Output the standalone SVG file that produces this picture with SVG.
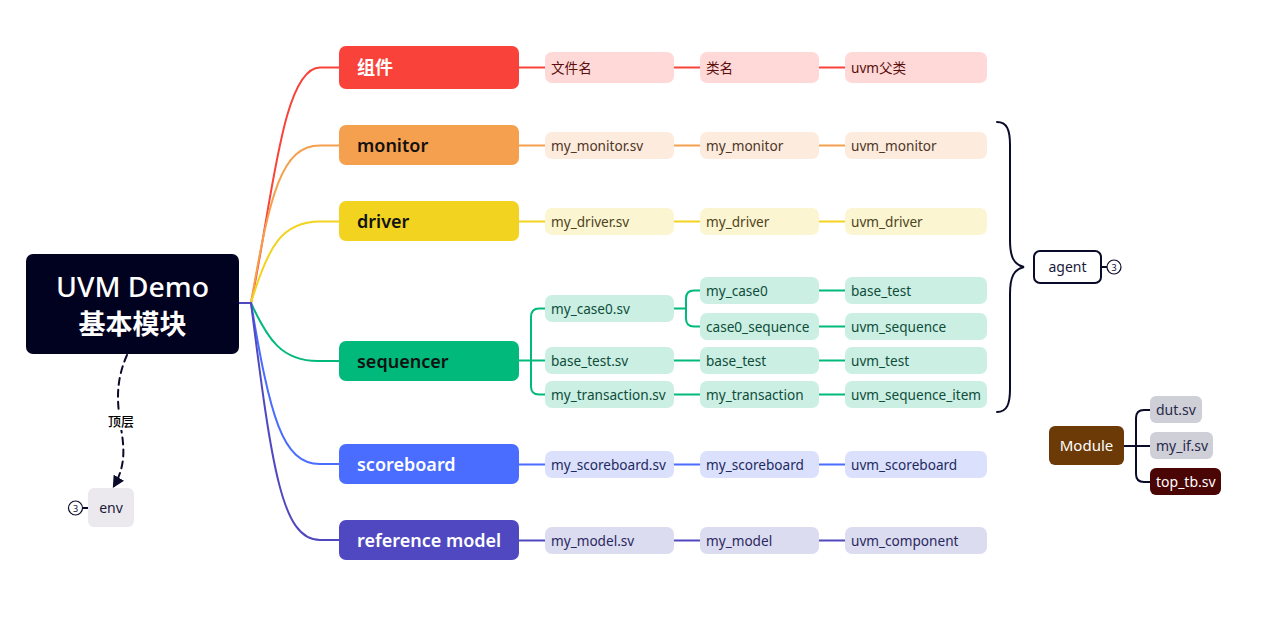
<svg xmlns="http://www.w3.org/2000/svg" width="1275" height="622" viewBox="0 0 1275 622">
<defs>
<style>
text{font-family:"Noto Sans","Noto Sans CJK SC",sans-serif;}
.br{font-size:18px;font-weight:600;}
.ch{font-size:13.6px;}
.ln{fill:none;stroke-width:2;stroke-linecap:round;}
.red{stroke:#f9423a}.org{stroke:#f5a04e}.yel{stroke:#f2d31f}.grn{stroke:#00b97a}.blu{stroke:#4a6cff}.pur{stroke:#4f48c0}.dk{stroke:#0a0a2a}
.cred{fill:#ffd9d8}.corg{fill:#fdebdd}.cyel{fill:#fcf5d2}.cgrn{fill:#ccefe3}.cblu{fill:#dbe1fd}.cpur{fill:#dcdcf0}
.tred{fill:#5a0f0c}.torg{fill:#4d3626}.tyel{fill:#4d4420}.tgrn{fill:#0e4d3a}.tblu{fill:#1e2a5e}.tpur{fill:#2a2860}
.num{fill:#fff;stroke:#0a0a2a;stroke-width:1.2}
.numt{font-size:9px;fill:#0a0a2a;text-anchor:middle}
</style>
<marker id="arr" viewBox="0 0 10 10" refX="8" refY="5" markerWidth="6" markerHeight="6" orient="auto-start-reverse">
<path d="M0,0 L10,5 L0,10 z" fill="#0a0a2a"/>
</marker>
</defs>
<rect width="1275" height="622" fill="#fff"/>

<g id="connectors">
<path class="ln red" d="M239,303 H251 C272,204 282,67.5 320,67.5 H339"/>
<path class="ln org" d="M239,303 H251 C270,192 282,145.5 320,145.5 H339"/>
<path class="ln yel" d="M239,303 H251 C268,246 282,221.5 320,221.5 H339"/>
<path class="ln grn" d="M239,303 H251 C268,340 282,361 318,361 H339"/>
<path class="ln blu" d="M239,303 H251 C270,416 282,464 320,464 H339"/>
<path class="ln pur" d="M239,303 H251 C272,470 282,540 320,540 H339"/>

<path class="ln red" d="M519,67.5 H545 M674,67.5 H700 M819,67.5 H845"/>
<path class="ln org" d="M519,145.5 H545 M674,145.5 H700 M819,145.5 H845"/>
<path class="ln yel" d="M519,221.5 H545 M674,221.5 H700 M819,221.5 H845"/>
<path class="ln grn" d="M519,360.5 H545 M531,360.5 V317 Q531,308.5 539,308.5 H545 M531,360.5 V386.5 Q531,394.5 539,394.5 H545"/>
<path class="ln grn" d="M674,308.5 H686 V298.5 Q686,290.5 694,290.5 H700 M686,308.5 V318.5 Q686,326.5 694,326.5 H700"/>
<path class="ln grn" d="M819,290.5 H845 M819,326.5 H845 M674,360.5 H700 M819,360.5 H845 M674,394.5 H700 M819,394.5 H845"/>
<path class="ln blu" d="M519,464.5 H545 M674,464.5 H700 M819,464.5 H845"/>
<path class="ln pur" d="M519,540.5 H545 M674,540.5 H700 M819,540.5 H845"/>

<path class="ln dk" d="M997,122 C1007,122 1010,130 1010,145 V240 C1010,257 1014,265 1024,267 C1014,269 1010,277 1010,294 V389 C1010,404 1007,412 997,412"/>
<path class="ln dk" d="M1102,267 H1107"/>
<path class="ln dk" d="M83,508 H88"/>
<path class="ln dk" d="M1124,446 H1150 M1136,446 V418 Q1136,410 1144,410 H1150 M1136,446 V474 Q1136,482 1144,482 H1150"/>

<path class="ln dk" stroke-dasharray="7,5" d="M127,355 C116,380 117,400 120,421 C123,442 128,462 114,486" marker-end="url(#arr)"/>
<rect x="104" y="412" width="34" height="18" fill="#fff"/>
<text x="121" y="426" font-size="13" font-weight="500" text-anchor="middle" fill="#000">顶层</text>
</g>

<g id="root">
<rect x="26" y="254" width="213" height="100" rx="7" fill="#01021f"/>
<text x="132.5" y="297" font-size="27" fill="#fff" text-anchor="middle" font-weight="500" textLength="153" lengthAdjust="spacingAndGlyphs">UVM Demo</text>
<text x="132.5" y="334" font-size="27" fill="#fff" text-anchor="middle" font-weight="700">基本模块</text>
</g>

<g id="n-zujian">
<rect x="339" y="46" width="180" height="43" rx="7" fill="#f9423a"/>
<text class="br" x="357" y="74" fill="#fff">组件</text>
</g>
<g id="n-zujian-c">
<rect class="cred" x="545" y="52" width="129" height="31" rx="7"/><text class="ch tred" x="551" y="73">文件名</text>
<rect class="cred" x="700" y="52" width="119" height="31" rx="7"/><text class="ch tred" x="706" y="73">类名</text>
<rect class="cred" x="845" y="52" width="142" height="31" rx="7"/><text class="ch tred" x="851" y="73">uvm父类</text>
</g>

<g id="n-monitor">
<rect x="339" y="125" width="180" height="40" rx="7" fill="#f5a04e"/>
<text class="br" x="357" y="152" fill="#111">monitor</text>
</g>
<g id="n-monitor-c">
<rect class="corg" x="545" y="132" width="129" height="27" rx="7"/><text class="ch torg" x="551" y="150.5">my_monitor.sv</text>
<rect class="corg" x="700" y="132" width="119" height="27" rx="7"/><text class="ch torg" x="706" y="150.5">my_monitor</text>
<rect class="corg" x="845" y="132" width="142" height="27" rx="7"/><text class="ch torg" x="851" y="150.5">uvm_monitor</text>
</g>

<g id="n-driver">
<rect x="339" y="201" width="180" height="40" rx="7" fill="#f2d31f"/>
<text class="br" x="357" y="228" fill="#111">driver</text>
</g>
<g id="n-driver-c">
<rect class="cyel" x="545" y="208" width="129" height="27" rx="7"/><text class="ch tyel" x="551" y="226.5">my_driver.sv</text>
<rect class="cyel" x="700" y="208" width="119" height="27" rx="7"/><text class="ch tyel" x="706" y="226.5">my_driver</text>
<rect class="cyel" x="845" y="208" width="142" height="27" rx="7"/><text class="ch tyel" x="851" y="226.5">uvm_driver</text>
</g>

<g id="n-sequencer">
<rect x="339" y="341" width="180" height="40" rx="7" fill="#00b97a"/>
<text class="br" x="357" y="368" fill="#111">sequencer</text>
</g>
<g id="n-sequencer-c">
<rect class="cgrn" x="545" y="295" width="129" height="27" rx="7"/><text class="ch tgrn" x="551" y="313.5">my_case0.sv</text>
<rect class="cgrn" x="700" y="277" width="119" height="27" rx="7"/><text class="ch tgrn" x="706" y="295.5">my_case0</text>
<rect class="cgrn" x="845" y="277" width="142" height="27" rx="7"/><text class="ch tgrn" x="851" y="295.5">base_test</text>
<rect class="cgrn" x="700" y="313" width="119" height="27" rx="7"/><text class="ch tgrn" x="706" y="331.5">case0_sequence</text>
<rect class="cgrn" x="845" y="313" width="142" height="27" rx="7"/><text class="ch tgrn" x="851" y="331.5">uvm_sequence</text>
<rect class="cgrn" x="545" y="347" width="129" height="27" rx="7"/><text class="ch tgrn" x="551" y="365.5">base_test.sv</text>
<rect class="cgrn" x="700" y="347" width="119" height="27" rx="7"/><text class="ch tgrn" x="706" y="365.5">base_test</text>
<rect class="cgrn" x="845" y="347" width="142" height="27" rx="7"/><text class="ch tgrn" x="851" y="365.5">uvm_test</text>
<rect class="cgrn" x="545" y="381" width="129" height="27" rx="7"/><text class="ch tgrn" x="551" y="399.5">my_transaction.sv</text>
<rect class="cgrn" x="700" y="381" width="119" height="27" rx="7"/><text class="ch tgrn" x="706" y="399.5">my_transaction</text>
<rect class="cgrn" x="845" y="381" width="142" height="27" rx="7"/><text class="ch tgrn" x="851" y="399.5">uvm_sequence_item</text>
</g>

<g id="n-scoreboard">
<rect x="339" y="444" width="180" height="40" rx="7" fill="#4a6cff"/>
<text class="br" x="357" y="471" fill="#fff">scoreboard</text>
</g>
<g id="n-scoreboard-c">
<rect class="cblu" x="545" y="451" width="129" height="27" rx="7"/><text class="ch tblu" x="551" y="469.5">my_scoreboard.sv</text>
<rect class="cblu" x="700" y="451" width="119" height="27" rx="7"/><text class="ch tblu" x="706" y="469.5">my_scoreboard</text>
<rect class="cblu" x="845" y="451" width="142" height="27" rx="7"/><text class="ch tblu" x="851" y="469.5">uvm_scoreboard</text>
</g>

<g id="n-refmodel">
<rect x="339" y="520" width="180" height="40" rx="7" fill="#4f48c0"/>
<text class="br" x="357" y="547" fill="#fff">reference model</text>
</g>
<g id="n-refmodel-c">
<rect class="cpur" x="545" y="527" width="129" height="27" rx="7"/><text class="ch tpur" x="551" y="545.5">my_model.sv</text>
<rect class="cpur" x="700" y="527" width="119" height="27" rx="7"/><text class="ch tpur" x="706" y="545.5">my_model</text>
<rect class="cpur" x="845" y="527" width="142" height="27" rx="7"/><text class="ch tpur" x="851" y="545.5">uvm_component</text>
</g>

<g id="n-agent">
<rect x="1034" y="251" width="67" height="32" rx="6" fill="#fff" stroke="#0a0a2a" stroke-width="2"/>
<text x="1067.5" y="272" font-size="14" fill="#1a1a3a" text-anchor="middle">agent</text>
<circle class="num" cx="1114" cy="267" r="7"/>
<text class="numt" x="1114" y="270.5">3</text>
</g>

<g id="n-env">
<rect x="88" y="488" width="46" height="39" rx="6" fill="#ebe9ee"/>
<text x="111" y="512.5" font-size="14" fill="#1a1a3a" text-anchor="middle">env</text>
<circle class="num" cx="75.5" cy="508" r="7"/>
<text class="numt" x="75.5" y="511.5">3</text>
</g>

<g id="n-module">
<rect x="1049" y="426" width="75" height="39" rx="6" fill="#6b3a06"/>
<text x="1086.5" y="451" font-size="15" fill="#fff" text-anchor="middle">Module</text>
</g>
<g id="n-module-c">
<rect x="1150" y="396" width="52" height="27" rx="6" fill="#cfcfd8"/><text x="1156" y="414.5" font-size="14" fill="#2a2a4a">dut.sv</text>
<rect x="1150" y="432" width="63" height="27" rx="6" fill="#cfcfd8"/><text x="1156" y="450.5" font-size="14" fill="#2a2a4a">my_if.sv</text>
<rect x="1150" y="468" width="71" height="27" rx="6" fill="#4a0505"/><text x="1156" y="486.5" font-size="14" fill="#fff">top_tb.sv</text>
</g>
</svg>
